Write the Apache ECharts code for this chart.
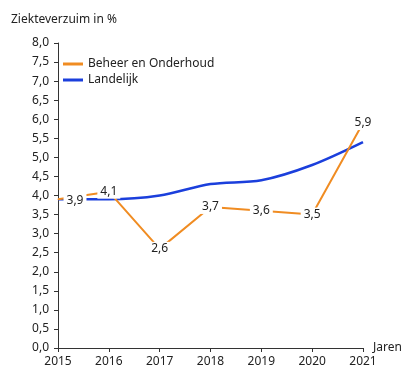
<!DOCTYPE html>
<html>
<head>
<meta charset="utf-8">
<script src="https://cdn.jsdelivr.net/npm/echarts@6/dist/echarts.min.js"></script>
<style>html,body{margin:0;padding:0;background:#fff}#c{width:413px;height:389px}</style>
</head>
<body>
<div id="c"></div>
<script>
const years = ['2015','2016','2017','2018','2019','2020','2021'];
const beheerOnderhoud = [3.9, 4.1, 2.6, 3.7, 3.6, 3.5, 5.9];
const landelijk = [3.9, 3.9, 4.0, 4.3, 4.4, 4.8, 5.4];
const yTicks = [0, 0.5, 1, 1.5, 2, 2.5, 3, 3.5, 4, 4.5, 5, 5.5, 6, 6.5, 7, 7.5, 8];

const font = 'Noto Sans';
const fmt = v => v.toFixed(1).replace('.', ',');
const chart = echarts.init(document.getElementById('c'));
chart.setOption({
  animation: false,
  textStyle: { fontFamily: font },
  title: {
    text: 'Ziekteverzuim in %', left: 6, top: 9,
    textStyle: { fontFamily: font, fontSize: 12, fontWeight: 'normal', color: '#222' }
  },
  legend: {
    orient: 'vertical', left: 58, top: 53, itemWidth: 20, itemHeight: 3, itemGap: 4,
    icon: 'rect',
    textStyle: { fontFamily: font, fontSize: 12, color: '#222' },
    data: [
      { name: 'Beheer en Onderhoud', itemStyle: { color: '#f08c22' } },
      { name: 'Landelijk', itemStyle: { color: '#1b3fdc' } }
    ]
  },
  grid: { left: 58, right: 50, top: 43, bottom: 41 },
  xAxis: {
    type: 'category', data: years, boundaryGap: false,
    name: 'Jaren', nameLocation: 'end', nameGap: 10,
    nameTextStyle: { fontFamily: font, fontSize: 12, color: '#222', verticalAlign: 'middle' },
    axisLine: { lineStyle: { color: '#333', width: 1 } },
    axisTick: { show: true, length: 4, alignWithLabel: true, lineStyle: { color: '#333' } },
    axisLabel: { fontFamily: font, fontSize: 12, color: '#222', margin: 8, interval: 0 }
  },
  yAxis: {
    type: 'value', min: 0, max: 8, interval: 0.5,
    axisLine: { show: true, lineStyle: { color: '#333', width: 1 } },
    axisTick: { show: true, length: 4, lineStyle: { color: '#333' } },
    splitLine: { show: false },
    axisLabel: { fontFamily: font, fontSize: 12, color: '#222', margin: 9, formatter: v => fmt(v) }
  },
  series: [
    {
      name: 'Landelijk', type: 'line', data: landelijk, smooth: 0.3, z: 2,
      symbol: 'none', color: '#1b3fdc',
      lineStyle: { color: '#1b3fdc', width: 2.5 }
    },
    {
      name: 'Beheer en Onderhoud', type: 'line', z: 3,
      data: beheerOnderhoud.map((v, i) => i === 0
        ? { value: v, label: { offset: [17, 1] } } : v),
      symbol: 'circle', symbolSize: 1, showSymbol: true, color: '#f08c22',
      lineStyle: { color: '#f08c22', width: 2 },
      label: {
        show: true, position: 'inside', formatter: p => fmt(p.value),
        fontFamily: font, fontSize: 12, color: '#222',
        backgroundColor: '#fff', padding: [1, 3]
      }
    }
  ]
});
</script>
</body>
</html>
